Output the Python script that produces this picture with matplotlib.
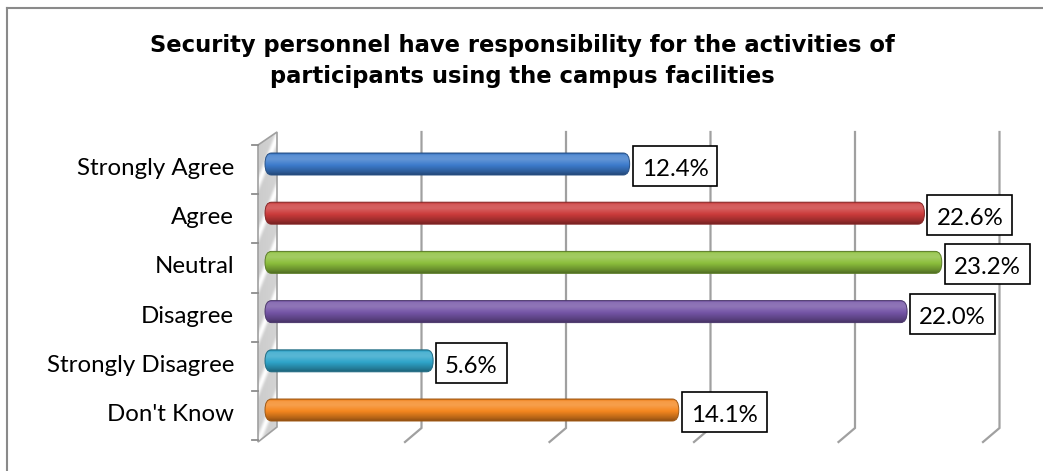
import numpy as np
import matplotlib
matplotlib.use("Agg")
import matplotlib.pyplot as plt
from matplotlib.patches import FancyBboxPatch, Polygon, Rectangle
from matplotlib.lines import Line2D
from matplotlib.colors import to_rgb

# ---- data -------------------------------------------------------------
title = ("Security personnel have responsibility for the activities of\n"
         "participants using the campus facilities")
categories = ["Strongly Agree", "Agree", "Neutral", "Disagree",
              "Strongly Disagree", "Don't Know"]
percentages = [12.4, 22.6, 23.2, 22.0, 5.6, 14.1]
value_labels = ["12.4%", "22.6%", "23.2%", "22.0%", "5.6%", "14.1%"]
bar_colors = ["#3c7bcc", "#cc3b3b", "#8cbf3c", "#7454a6", "#2fa5ca", "#f5871f"]
grid_values = [5, 10, 15, 20, 25]

# ---- figure / axes ----------------------------------------------------
W, H, DPI = 1043, 471, 100
fig = plt.figure(figsize=(W / DPI, H / DPI), dpi=DPI)
fig.patch.set_facecolor("white")

L, R, T, B = 240, 1020, 120, 460          # plot area (pixels)
PX_PER_PCT = 28.9                          # horizontal scale
ZERO_PX = 271.3                            # 0 % on the bar plane
ROW_PX = 49.2                              # category spacing
ROW0_PX = 164                              # first category centre

ax = fig.add_axes([L / W, 1 - B / H, (R - L) / W, (B - T) / H])
ax.axis("off")


def dx(px):
    return px / PX_PER_PCT


def dy(px):
    return px / ROW_PX


# 3-D box geometry (depth offsets of back / front planes)
back_x0, front_x0 = dx(5.7), dx(-10.8)
back_top, back_bot = dy(-32), dy(264)
front_top, front_bot = dy(-19), dy(278)
wall_front, wall_back = dx(-13.3), dx(5.7)

# ---- side wall ---------------------------------------------------------
wall_poly = [(wall_front, front_top), (wall_back, back_top),
             (wall_back, dy(263)), (wall_front, front_bot)]
wall = Polygon(wall_poly, closed=True, facecolor="none",
               edgecolor="#a0a0a0", lw=1.2, zorder=3)
ax.add_patch(wall)
ny, nx = 300, 40
vv, uu = np.mgrid[0:1:ny * 1j, 0:1:nx * 1j]
sheen = np.clip(np.cos(2 * np.pi * (vv * 6.0 + uu * 0.9)), 0, 1) ** 2
g = 0.80 + 0.19 * sheen + 0.03 * uu
wall_img = np.dstack([g, g, g])
im = ax.imshow(wall_img, extent=(wall_front, wall_back, front_bot, back_top),
               aspect="auto", interpolation="bicubic", zorder=2)
im.set_clip_path(wall)

# ---- grid lines (back plane + floor) ----------------------------------
for gv in grid_values:
    xb, xf = back_x0 + gv, front_x0 + gv
    ax.add_line(Line2D([xb, xb, xf], [back_top, back_bot, front_bot],
                       color="#a0a0a0", lw=1.6, zorder=1,
                       solid_joinstyle="miter"))

# category ticks on the wall's front edge
for k in range(len(categories) + 1):
    yk = front_top + k
    ax.add_line(Line2D([wall_front - dx(6), wall_front], [yk, yk],
                       color="#8c8c8c", lw=1.3, zorder=3))

# ---- cylinder bars -------------------------------------------------------
bar_h = dy(22)
bars = ax.barh(range(len(categories)), percentages, height=bar_h,
               color="none", edgecolor="none")
start_x = dx(-6.3)


def cylinder_gradient(color, n=80):
    base = np.array(to_rgb(color))
    t = np.linspace(0, 1, n)
    stops = [0.0, 0.08, 0.28, 0.55, 0.85, 1.0]
    light = [-0.22, 0.16, 0.2, 0.0, -0.25, -0.42]
    f = np.interp(t, stops, light)
    rows = []
    for s in f:
        if s >= 0:
            c = base + (1 - base) * s
        else:
            c = base * (1 + s)
        rows.append(c)
    return np.array(rows)[:, None, :]


for rect, col in zip(bars.patches, bar_colors):
    y0, h = rect.get_y(), rect.get_height()
    x1 = rect.get_x() + rect.get_width()
    patch = FancyBboxPatch((start_x, y0), x1 - start_x, h,
                           boxstyle=f"round,pad=0,rounding_size={h / 2}",
                           facecolor="none",
                           edgecolor=tuple(np.array(to_rgb(col)) * 0.65),
                           lw=0.7, zorder=6)
    ax.add_patch(patch)
    gi = ax.imshow(cylinder_gradient(col), extent=(start_x, x1, y0 + h, y0),
                   aspect="auto", interpolation="bicubic", zorder=5)
    gi.set_clip_path(patch)

ax.set_xlim((L - ZERO_PX) / PX_PER_PCT, (R - ZERO_PX) / PX_PER_PCT)
ax.set_ylim((B - ROW0_PX) / ROW_PX, (T - ROW0_PX) / ROW_PX)

# ---- category labels ---------------------------------------------------
label_font = dict(family="Lato", size=17.3)
for i, name in enumerate(categories):
    ax.text(dx(234 - ZERO_PX), i + dy(11), name, ha="right",
            va="baseline", color="black", **label_font)

# ---- value labels with boxes ---------------------------------------------
texts = []
for i, (v, lab) in enumerate(zip(percentages, value_labels)):
    t = ax.text(v + dx(12), i + dy(12), lab, ha="left", va="baseline",
                color="black", zorder=9, **label_font)
    texts.append((t, v, i))

fig.canvas.draw()
renderer = fig.canvas.get_renderer()
for t, v, i in texts:
    wpx = t.get_window_extent(renderer).width
    base = i + dy(12)
    ax.add_patch(Rectangle((v + dx(3), base - dy(30)), dx(wpx + 18), dy(40),
                           facecolor="white", edgecolor="black", lw=1.2,
                           zorder=8, clip_on=False))

# ---- title -------------------------------------------------------------
fig.text(522 / W, 1 - 61 / H, title, ha="center", va="center",
         family="DejaVu Sans", weight="bold",
         fontsize=16.3, linespacing=1.45)

# ---- chart frame (left and top edges) ---------------------------------
fig.add_artist(Line2D([7 / W, 7 / W], [0, 1 - 8 / H], color="#8a8a8a",
                      lw=1.5, transform=fig.transFigure))
fig.add_artist(Line2D([7 / W, 1], [1 - 8 / H, 1 - 8 / H], color="#8a8a8a",
                      lw=1.5, transform=fig.transFigure))

fig.savefig("out.png", dpi=DPI, facecolor="white")
